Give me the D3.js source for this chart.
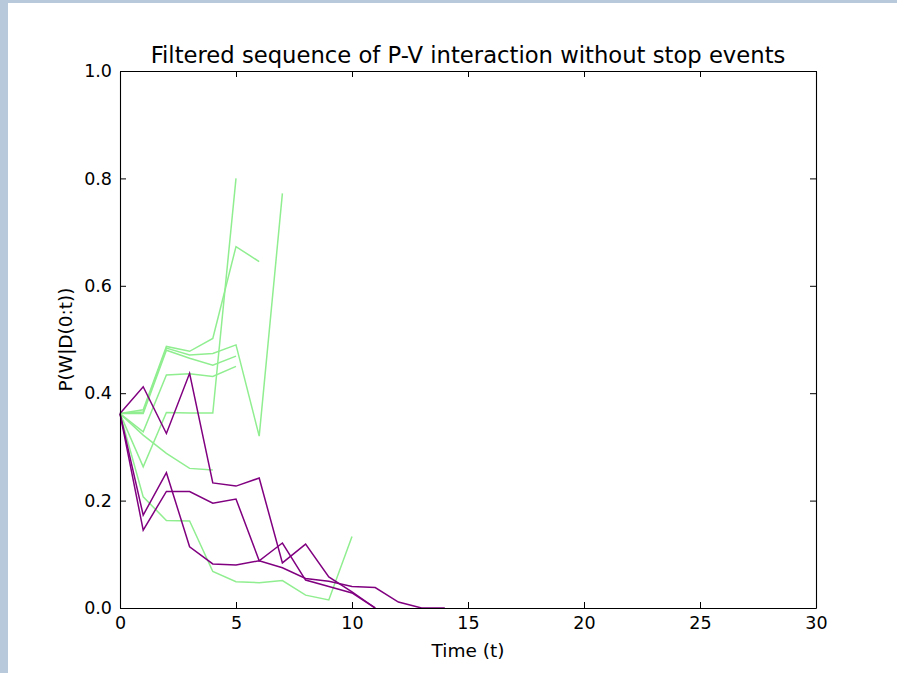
<!DOCTYPE html>
<html>
<head>
<meta charset="utf-8">
<script src="https://cdn.jsdelivr.net/npm/d3@7"></script>
<style>
  body { margin: 0; overflow: hidden; background: #fff; }
</style>
</head>
<body>
<script>
// tick values
const xTicks = [0, 5, 10, 15, 20, 25, 30];
const yTicks = [0.0, 0.2, 0.4, 0.6, 0.8, 1.0];

// each array is P(W|D(0:t)) for t = 0, 1, 2, ...
const greenSeries = [
    [0.362, 0.263, 0.364, 0.363, 0.363, 0.800],
    [0.362, 0.369, 0.487, 0.478, 0.502, 0.673, 0.645],
    [0.362, 0.365, 0.484, 0.471, 0.474, 0.490, 0.320, 0.772],
    [0.362, 0.362, 0.480, 0.465, 0.452, 0.469],
    [0.362, 0.328, 0.434, 0.436, 0.431, 0.450],
    [0.362, 0.322, 0.288, 0.260, 0.257],
    [0.362, 0.207, 0.163, 0.162, 0.068, 0.049, 0.047, 0.051, 0.024, 0.015, 0.133]
];

const purpleSeries = [
    [0.362, 0.412, 0.325, 0.437, 0.233, 0.227, 0.242, 0.084, 0.119, 0.058, 0.030, 0.0],
    [0.362, 0.173, 0.252, 0.114, 0.082, 0.080, 0.088, 0.075, 0.055, 0.050, 0.040, 0.038, 0.011, 0.0, 0.0],
    [0.362, 0.145, 0.217, 0.217, 0.195, 0.203, 0.088, 0.121, 0.052, 0.040, 0.028, 0.0]
];

const WIDTH = 897;
const HEIGHT = 673;
const plot = { left: 120, right: 816, top: 71, bottom: 608 };
const FONT = "DejaVu Sans";

const svg = d3.select("body")
    .append("svg")
    .attr("width", WIDTH)
    .attr("height", HEIGHT);

// page frame (blue strip on left and top)
svg.append("rect")
    .attr("width", WIDTH)
    .attr("height", HEIGHT)
    .attr("fill", "#b9c9dc");
svg.append("rect")
    .attr("x", 8)
    .attr("y", 3)
    .attr("width", WIDTH - 8)
    .attr("height", HEIGHT - 3)
    .attr("fill", "#ffffff");

const x = d3.scaleLinear().domain([0, 30]).range([plot.left, plot.right]);
const y = d3.scaleLinear().domain([0, 1]).range([plot.bottom, plot.top]);

const line = d3.line()
    .x((d, i) => x(i))
    .y(d => y(d));

// Draw the series
function drawSeries(list, color) {
    svg.append("g")
        .selectAll("path")
        .data(list)
        .join("path")
        .attr("d", line)
        .attr("fill", "none")
        .attr("stroke", color)
        .attr("stroke-width", 1.5)
        .attr("stroke-linejoin", "miter");
}
drawSeries(greenSeries, "#90ee90");
drawSeries(purpleSeries, "#800080");

// Axes, ticks pointing inward on all four sides
function styleAxis(g) {
    g.select(".domain").attr("stroke", "#000").attr("stroke-width", 1.1);
    g.selectAll(".tick line").attr("stroke", "#000").attr("stroke-width", 1);
    g.selectAll("text")
        .attr("fill", "#000")
        .attr("font-family", FONT)
        .attr("font-size", "17.5px");
}

svg.append("g")
    .attr("transform", `translate(0,${plot.bottom})`)
    .call(d3.axisBottom(x).tickValues(xTicks).tickFormat(d3.format("d"))
        .tickSizeInner(-6).tickSizeOuter(0).tickPadding(9))
    .call(styleAxis);

svg.append("g")
    .attr("transform", `translate(${plot.left},0)`)
    .call(d3.axisLeft(y).tickValues(yTicks).tickFormat(d3.format(".1f"))
        .tickSizeInner(-6).tickSizeOuter(0).tickPadding(8))
    .call(styleAxis);

svg.append("g")
    .attr("transform", `translate(0,${plot.top})`)
    .call(d3.axisTop(x).tickValues(xTicks).tickFormat("")
        .tickSizeInner(-6).tickSizeOuter(0))
    .call(styleAxis);

svg.append("g")
    .attr("transform", `translate(${plot.right},0)`)
    .call(d3.axisRight(y).tickValues(yTicks).tickFormat("")
        .tickSizeInner(-6).tickSizeOuter(0))
    .call(styleAxis);

// Title and labels
svg.append("text")
    .attr("x", (plot.left + plot.right) / 2)
    .attr("y", 63)
    .attr("text-anchor", "middle")
    .attr("font-family", FONT)
    .attr("font-size", "22.7px")
    .text("Filtered sequence of P-V interaction without stop events");

svg.append("text")
    .attr("x", (plot.left + plot.right) / 2)
    .attr("y", 657)
    .attr("text-anchor", "middle")
    .attr("font-family", FONT)
    .attr("font-size", "18.5px")
    .text("Time (t)");

svg.append("text")
    .attr("transform", `translate(72,${(plot.top + plot.bottom) / 2}) rotate(-90)`)
    .attr("text-anchor", "middle")
    .attr("font-family", FONT)
    .attr("font-size", "18.5px")
    .text("P(W|D(0:t))");
</script>
</body>
</html>
